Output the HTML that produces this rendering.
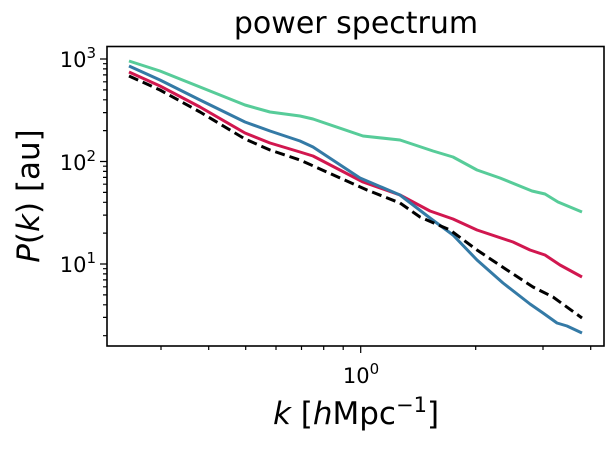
<!DOCTYPE html>
<html><head><style>body{margin:0;background:#fff}svg{display:block}text{font-family:"DejaVu Sans","Liberation Sans",sans-serif;fill:#000}</style></head>
<body>
<svg width="615" height="450" viewBox="0 0 615 450" xmlns="http://www.w3.org/2000/svg">
<g stroke="#000" stroke-width="1.2">
<path d="M100,264H107M100,161.5H107M100,59H107"/>
<path d="M103,335.7H107M103,317.4H107M103,304.8H107M103,294.9H107M103,286.8H107M103,279.9H107M103,273.9H107M103,268.7H107"/>
<path d="M103,233.1H107M103,215.1H107M103,202.3H107M103,192.4H107M103,184.2H107M103,177.4H107M103,171.4H107M103,166.2H107"/>
<path d="M103,130.6H107M103,112.6H107M103,99.8H107M103,89.9H107M103,81.8H107M103,74.9H107M103,68.9H107M103,63.7H107"/>
<path d="M360.7,346V353"/>
<path d="M161,346V350M208.7,346V350M245.7,346V350M276,346V350M301.5,346V350M323.7,346V350M343.2,346V350M475.7,346V350M543,346V350M590.7,346V350"/>
</g>
<g fill="none" stroke-width="3" stroke-linejoin="round" stroke-linecap="butt">
<polyline stroke="#57cc99" points="129,61 160,71 200,87 245,105 270,112 300,116 313,119 363,136 400,140 433,151 453,157 477,170 500,178 532,191 545,194 558,202 582,212"/>
<polyline stroke="#d1174f" points="129,72 160,86 200,107 245,133 270,143 300,152 313,156 363,182 400,195 430,211 453,219 477,230 513,242 530,250 545,255 560,265 582,277"/>
<polyline stroke="#347aa6" points="129,66 160,80 200,100 245,122 270,131 300,141 313,147 360,178 400,195 430,218 453,235 477,260 503,283 530,304 543,313 557,323 567,326 582,333"/>
<polyline stroke="#000" stroke-dasharray="10,5" points="129,76 160,90 200,112 245,139 270,150 300,160 367,190 400,203 420,217 450,230 477,250 507,270 533,287 553,297 582,318"/>
</g>
<rect x="107" y="46.5" width="497" height="299.5" fill="none" stroke="#000" stroke-width="1.6"/>
<text x="356" y="33" font-size="30" text-anchor="middle">power spectrum</text>
<text x="361" y="383" font-size="21" text-anchor="middle">10<tspan dy="-9" font-size="15">0</tspan></text>
<text x="96" y="67" font-size="21" text-anchor="end">10<tspan dy="-9" font-size="15">3</tspan></text>
<text x="96" y="170" font-size="21" text-anchor="end">10<tspan dy="-9" font-size="15">2</tspan></text>
<text x="96" y="272" font-size="21" text-anchor="end">10<tspan dy="-9" font-size="15">1</tspan></text>
<text x="356" y="424" font-size="31" text-anchor="middle"><tspan font-style="italic">k</tspan> [<tspan font-style="italic">h</tspan>Mpc<tspan dy="-12" font-size="21">−1</tspan><tspan dy="12">]</tspan></text>
<text transform="translate(39,196) rotate(-90)" font-size="31" text-anchor="middle"><tspan font-style="italic">P</tspan>(<tspan font-style="italic">k</tspan>) [au]</text>
</svg>
</body></html>
